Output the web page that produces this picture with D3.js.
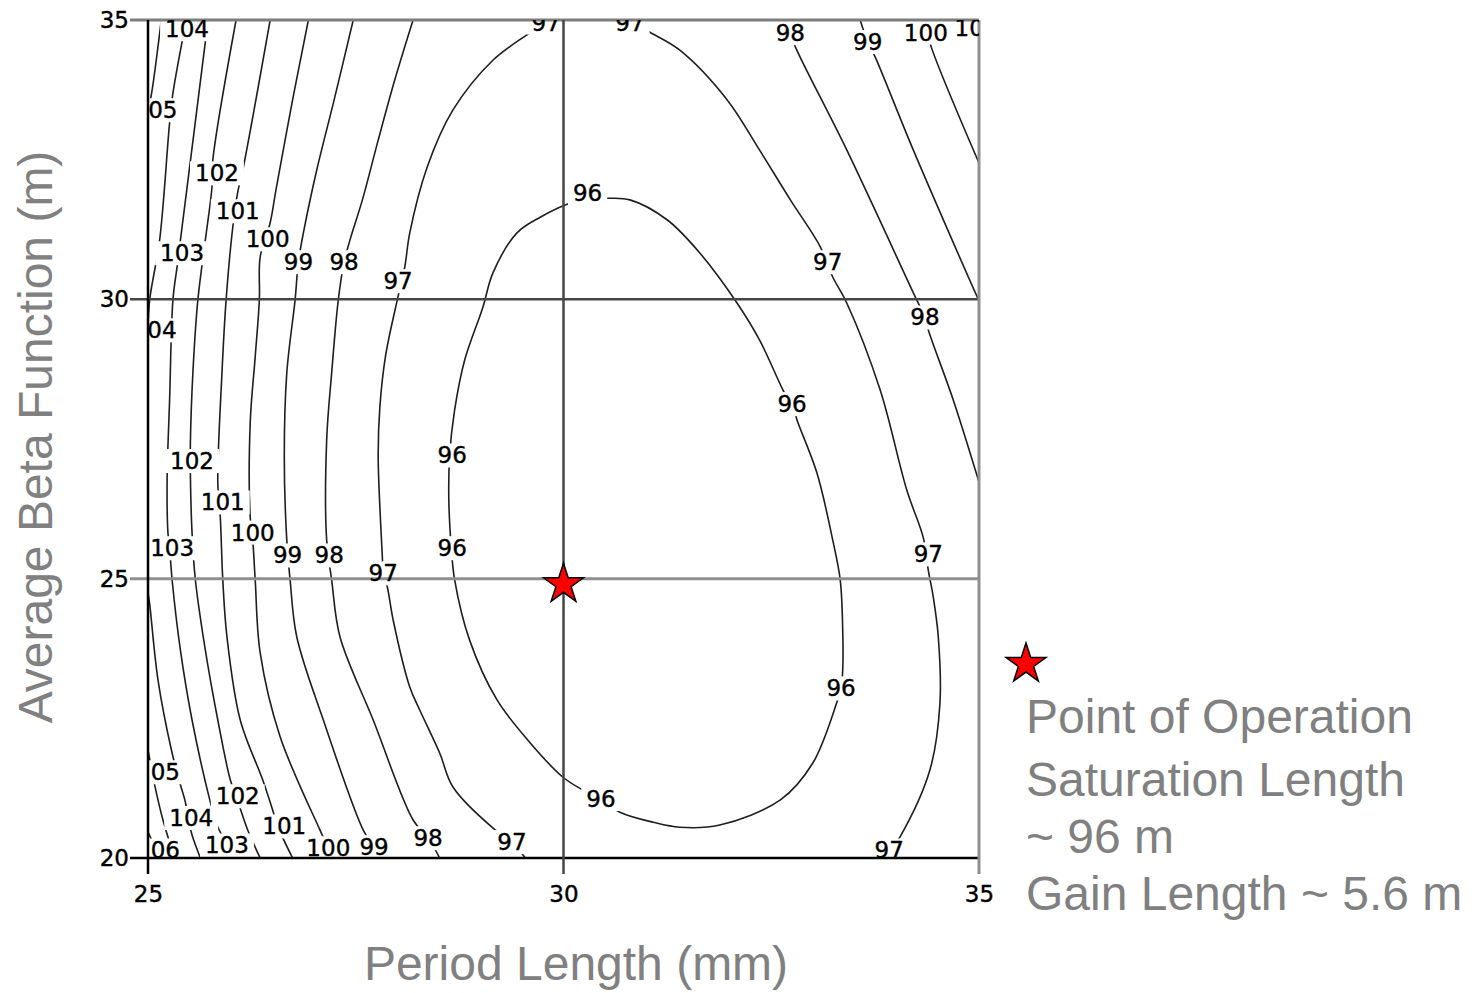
<!DOCTYPE html>
<html>
<head>
<meta charset="utf-8">
<script src="https://cdn.jsdelivr.net/npm/d3@7"></script>
<style>
  body { margin: 0; background: #fff; }
  svg { display: block; }
</style>
</head>
<body>
<script>
var W = 1474, H = 993;
var plot = { left: 148, right: 979, top: 20, bottom: 858 };

// axes
var periodDomain = [25, 35];
var betaDomain = [20, 35];
var periodTicks = [25, 30, 35];
var betaTicks = [20, 25, 30, 35];

// contour lines as [period (mm), beta (m)]
var c96 = [[30.02,31.69],[30.29,31.81],[30.54,31.81],[30.80,31.78],[31.25,31.42],[31.64,30.83],[32.09,29.93],[32.36,29.27],
  [32.64,28.38],[32.78,28.0],[32.81,27.84],[33.05,26.89],[33.24,25.69],[33.33,24.98],[33.36,24.08],[33.36,23.36],[33.34,23.04],
  [33.29,22.79],[33.00,21.70],[32.61,21.04],[31.88,20.59],[31.40,20.55],[31.08,20.64],[30.68,20.82],[30.45,21.06],[30.23,21.22],
  [29.99,21.45],[29.60,22.06],[29.20,22.83],[28.87,23.90],[28.69,24.98],[28.65,25.55],[28.62,26.41],[28.63,27.21],[28.69,28.02],
  [28.81,28.91],[29.03,29.86],[29.15,30.47],[29.44,31.19],[29.72,31.47]];
var c97a = [[29.54,20.0],[29.38,20.29],[29.18,20.50],[28.67,21.27],[28.51,21.88],[28.27,22.65],[28.15,23.06],[27.95,24.26],
  [27.88,24.85],[27.83,25.10],[27.82,25.39],[27.77,27.18],[27.79,28.07],[27.86,29.0],[28.00,29.99],[28.09,30.58],[28.15,31.19],
  [28.36,32.37],[28.67,33.39],[29.15,34.28],[29.60,34.78],[29.79,35.0]];
var c97b = [[30.78,35.0],[31.04,34.78],[31.40,34.46],[31.97,33.57],[32.36,32.67],[32.73,31.78],[33.09,30.94],[33.24,30.40],
  [33.41,29.93],[33.81,28.38],[34.13,26.59],[34.33,25.73],[34.39,25.15],[34.45,24.67],[34.51,23.96],[34.53,22.77],[34.41,21.58],
  [34.05,20.38],[33.87,20.0]];
var c98a = [[28.51,20.0],[28.37,20.36],[28.19,20.68],[27.71,22.47],[27.31,23.96],[27.21,24.98],[27.15,25.69],[27.15,27.48],
  [27.21,28.68],[27.29,29.99],[27.36,30.67],[27.43,31.06],[27.58,31.78],[27.77,32.85],[27.97,33.93],[28.19,35.0]];
var c98b = [[32.67,35.0],[32.73,34.77],[32.79,34.52],[33.41,32.67],[34.25,29.99],[34.35,29.68],[34.39,29.45],[34.69,28.20],[35.0,26.73]];
var c99a = [[27.79,20.0],[27.72,20.20],[27.59,20.50],[27.11,22.47],[26.79,23.96],[26.71,24.98],[26.67,25.69],[26.64,27.18],
  [26.67,28.68],[26.77,29.99],[26.81,30.67],[26.87,31.19],[27.03,32.31],[27.24,33.57],[27.47,35.0]];
var c99b = [[33.57,35.0],[33.66,34.61],[33.75,34.34],[34.21,32.67],[34.98,30.04],[35.0,29.98]];
var c100a = [[27.25,20.0],[27.17,20.18],[27.07,20.50],[26.59,22.17],[26.35,23.67],[26.29,24.98],[26.26,25.70],[26.23,26.10],
  [26.23,27.79],[26.29,28.97],[26.34,29.99],[26.35,30.76],[26.47,31.37],[26.54,31.96],[26.74,33.57],[26.93,35.0]];
var c100b = [[34.23,35.0],[34.39,34.78],[34.41,34.59],[35.0,32.44]];
var c101a = [[26.74,20.0],[26.56,20.57],[26.50,20.86],[26.38,21.40],[26.11,22.47],[25.95,23.96],[25.90,24.98],[25.87,26.10],
  [25.84,26.71],[25.89,28.68],[25.94,29.99],[26.02,31.29],[26.08,31.92],[26.14,32.31],[26.47,35.0]];
var c101b = [[34.75,35.0],[35.0,34.66]];
var c102 = [[26.35,20.0],[26.20,20.50],[26.06,21.11],[25.99,21.40],[25.84,22.47],[25.69,23.72],[25.57,24.98],[25.53,25.82],
  [25.51,26.86],[25.51,27.43],[25.54,28.68],[25.60,29.99],[25.69,31.06],[25.77,32.01],[25.78,32.49],[26.06,35.0]];
var c103 = [[26.01,20.0],[25.95,20.23],[25.83,20.59],[25.75,21.00],[25.53,22.47],[25.39,23.72],[25.29,24.98],[25.26,25.55],
  [25.24,25.82],[25.23,26.77],[25.26,28.20],[25.30,29.99],[25.35,30.58],[25.39,31.06],[25.69,34.61],[25.72,35.0]];
var c104a = [[25.46,35.0],[25.41,34.61],[25.30,33.69],[25.26,33.16],[25.14,31.06],[25.02,29.99],[25.0,29.45]];
var c104b = [[25.0,24.75],[25.02,24.55],[25.12,23.19],[25.29,21.88],[25.39,21.31],[25.45,21.00],[25.48,20.72],[25.53,20.41],[25.63,20.0]];
var c105a = [[25.16,35.0],[25.05,33.75],[25.0,33.35]];
var c105b = [[25.0,21.93],[25.05,21.54],[25.08,21.31],[25.18,20.68],[25.32,20.0]];
var c106 = [[25.0,20.47],[25.14,20.0]];

// in-line labels: [level, period, beta]
var contourLabels = [
  [96,30.29,31.90],[96,32.75,28.13],[96,33.34,23.04],[96,30.45,21.06],[96,28.66,25.55],[96,28.66,27.21],
  [97,28.01,30.33],[97,27.83,25.10],[97,29.38,20.29],[97,29.79,34.96],[97,30.80,34.96],[97,33.18,30.67],[97,34.39,25.44],[97,33.92,20.14],
  [98,27.36,30.67],[98,27.18,25.42],[98,28.37,20.36],[98,32.73,34.77],[98,34.35,29.68],
  [99,26.81,30.67],[99,26.68,25.42],[99,27.72,20.20],[99,33.66,34.61],
  [100,26.44,31.08],[100,26.26,25.83],[100,27.17,20.18],[100,34.36,34.78],
  [101,26.08,31.58],[101,25.90,26.37],[101,26.64,20.57],[101,34.97,34.86],
  [102,25.83,32.26],[102,25.53,27.11],[102,26.08,21.11],
  [103,25.41,30.83],[103,25.29,25.55],[103,25.95,20.23],
  [104,25.47,34.84],[104,25.08,29.45],[104,25.52,20.72],
  [105,25.09,33.39],[105,25.12,21.54],
  [106,25.12,20.14]
];

var opPoint = [30, 24.9];
var noteLines = ["Point of Operation", "Saturation Length", "~ 96 m", "Gain Length ~ 5.6 m"];

var contours = [
  { level: 96, pts: c96, loop: true },
  { level: 97, pts: c97a }, { level: 97, pts: c97b },
  { level: 98, pts: c98a }, { level: 98, pts: c98b },
  { level: 99, pts: c99a }, { level: 99, pts: c99b },
  { level: 100, pts: c100a }, { level: 100, pts: c100b },
  { level: 101, pts: c101a }, { level: 101, pts: c101b },
  { level: 102, pts: c102 }, { level: 103, pts: c103 },
  { level: 104, pts: c104a }, { level: 104, pts: c104b },
  { level: 105, pts: c105a }, { level: 105, pts: c105b },
  { level: 106, pts: c106 }
];

var x = d3.scaleLinear().domain(periodDomain).range([plot.left, plot.right]);
var y = d3.scaleLinear().domain(betaDomain).range([plot.bottom, plot.top]);

var svg = d3.select('body').append('svg')
  .attr('width', W)
  .attr('height', H);

svg.append('rect').attr('width', W).attr('height', H).attr('fill', '#fff');

svg.append('clipPath').attr('id', 'plotclip')
  .append('rect')
  .attr('x', plot.left).attr('y', plot.top)
  .attr('width', plot.right - plot.left).attr('height', plot.bottom - plot.top);

var inner = svg.append('g').attr('clip-path', 'url(#plotclip)');

// contour lines
var openLine = d3.line().x(function(d){ return x(d[0]); }).y(function(d){ return y(d[1]); })
  .curve(d3.curveCatmullRom.alpha(0.5));
var loopLine = d3.line().x(function(d){ return x(d[0]); }).y(function(d){ return y(d[1]); })
  .curve(d3.curveCatmullRomClosed.alpha(0.5));

inner.append('g').selectAll('path')
  .data(contours)
  .enter().append('path')
  .attr('d', function(d){ return d.loop ? loopLine(d.pts) : openLine(d.pts); })
  .attr('fill', 'none')
  .attr('stroke', '#1e1e1e')
  .attr('stroke-width', 1.6);

// label boxes go under the grid, label text over it
var boxG = inner.append('g');
var gridG = svg.append('g');
var textG = svg.append('g').attr('clip-path', 'url(#plotclip)');

textG.selectAll('text')
  .data(contourLabels)
  .enter().append('text')
  .attr('x', function(d){ return x(d[1]); })
  .attr('y', function(d){ return y(d[2]); })
  .attr('dy', '0.36em')
  .attr('text-anchor', 'middle')
  .attr('font-family', 'DejaVu Sans, sans-serif')
  .attr('font-size', 23)
  .attr('fill', '#000')
  .attr('stroke', '#000')
  .attr('stroke-width', 0.4)
  .text(function(d){ return d[0]; })
  .each(function(){
    var b = this.getBBox();
    boxG.append('rect')
      .attr('x', b.x - 5).attr('y', b.y + 1)
      .attr('width', b.width + 10).attr('height', b.height - 2)
      .attr('fill', '#fff');
  });

// grid and frame
var hStyle = { 20: ['#000', 2.5], 25: ['#8f8f8f', 3], 30: ['#454545', 2.5], 35: ['#7d7d7d', 3] };
var vStyle = { 25: ['#000', 2.5], 30: ['#454545', 2.5], 35: ['#8f8f8f', 3] };

gridG.selectAll('.h')
  .data(betaTicks)
  .enter().append('line')
  .attr('x1', plot.left - 18).attr('x2', plot.right)
  .attr('y1', function(d){ return y(d); }).attr('y2', function(d){ return y(d); })
  .attr('stroke', function(d){ return hStyle[d][0]; })
  .attr('stroke-width', function(d){ return hStyle[d][1]; });

gridG.selectAll('.v')
  .data(periodTicks)
  .enter().append('line')
  .attr('y1', plot.top).attr('y2', plot.bottom + 16)
  .attr('x1', function(d){ return x(d); }).attr('x2', function(d){ return x(d); })
  .attr('stroke', function(d){ return vStyle[d][0]; })
  .attr('stroke-width', function(d){ return vStyle[d][1]; });

// tick labels
var xAxis = svg.append('g')
  .attr('transform', 'translate(0,' + plot.bottom + ')')
  .call(d3.axisBottom(x).tickValues(periodTicks).tickSize(0).tickPadding(28));
var yAxis = svg.append('g')
  .attr('transform', 'translate(' + plot.left + ',0)')
  .call(d3.axisLeft(y).tickValues(betaTicks).tickSize(0).tickPadding(19));

[xAxis, yAxis].forEach(function(a){
  a.select('.domain').remove();
  a.selectAll('text')
    .attr('font-family', 'DejaVu Sans, sans-serif')
    .attr('font-size', 23)
    .attr('fill', '#000')
    .attr('stroke', '#000')
    .attr('stroke-width', 0.4);
});

// operating point
var star = d3.symbol().type(d3.symbolStar).size(495);
svg.append('path')
  .attr('d', star())
  .attr('transform', 'translate(' + x(opPoint[0]) + ',' + y(opPoint[1]) + ')')
  .attr('fill', '#ff0000')
  .attr('stroke', '#000')
  .attr('stroke-width', 1.5);

// axis titles
svg.append('text')
  .attr('x', 576).attr('y', 980)
  .attr('text-anchor', 'middle')
  .attr('font-family', 'Liberation Sans, Arial, sans-serif')
  .attr('font-size', 48)
  .attr('fill', '#808080')
  .text('Period Length (mm)');

svg.append('text')
  .attr('transform', 'translate(52,437) rotate(-90)')
  .attr('text-anchor', 'middle')
  .attr('font-family', 'Liberation Sans, Arial, sans-serif')
  .attr('font-size', 48)
  .attr('fill', '#808080')
  .text('Average Beta Function (m)');

// note on the right
svg.append('path')
  .attr('d', star())
  .attr('transform', 'translate(1026,664)')
  .attr('fill', '#ff0000')
  .attr('stroke', '#000')
  .attr('stroke-width', 1.5);

var noteY = [733, 796, 853, 910];
svg.append('g').selectAll('text')
  .data(noteLines)
  .enter().append('text')
  .attr('x', 1026)
  .attr('y', function(d, i){ return noteY[i]; })
  .attr('font-family', 'Liberation Sans, Arial, sans-serif')
  .attr('font-size', 48)
  .attr('fill', '#808080')
  .text(function(d){ return d; });
</script>
</body>
</html>
